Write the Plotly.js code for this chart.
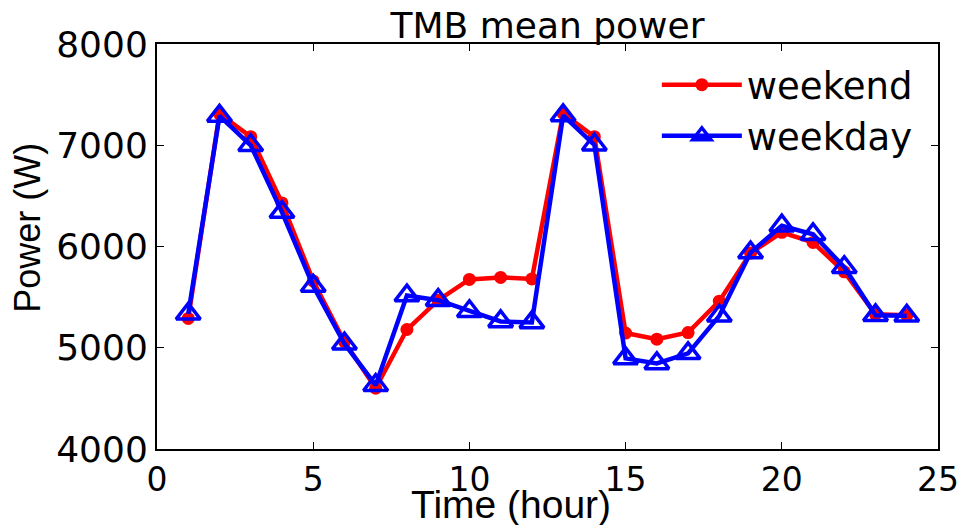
<!DOCTYPE html>
<html>
<head>
<meta charset="utf-8">
<script src="https://cdn.plot.ly/plotly-3.0.1.min.js"></script>
<style>html,body{margin:0;padding:0;background:#fff}#chart{width:962px;height:525px}</style>
</head>
<body>
<div id="chart"></div>
<script>
var hours = [1,2,3,4,5,6,7,8,9,10,11,12,13,14,15,16,17,18,19,20,21,22,23,24];
var weekend = [5290,7310,7085,6430,5660,5060,4600,5180,5470,5675,5695,5680,7315,7085,5145,5085,5150,5460,5935,6140,6040,5750,5330,5320];
var weekday = [5335,7290,7000,6340,5610,5040,4630,5515,5470,5360,5260,5250,7295,7005,4895,4845,4945,5315,5940,6205,6120,5795,5320,5315];
var seriesNames = ["weekend","weekday"];
var xTicks = [0,5,10,15,20,25];
var yTicks = [4000,5000,6000,7000,8000];

var SANS = "Liberation Sans, Arial, sans-serif";
var WIDE = "DejaVu Sans, sans-serif";
var traces = [
  {x: hours, y: weekend, name: seriesNames[0], mode: "lines+markers",
   line: {color: "#ff0000", width: 4.5},
   marker: {symbol: "circle", size: 13, color: "#ff0000"}},
  {x: hours, y: weekday, name: seriesNames[1], mode: "lines+markers",
   line: {color: "#0000ff", width: 4.5},
   marker: {symbol: "triangle-up-open", size: 21, color: "#0000ff", line: {width: 3.5, color: "#0000ff"}}}
];
var axisCommon = {
  showgrid: false, zeroline: false, showline: true, linecolor: "#000", linewidth: 2,
  mirror: "ticks", ticks: "inside", ticklen: 7, tickwidth: 1, tickcolor: "#000"
};
var layout = {
  width: 962, height: 525,
  margin: {l: 157, r: 24, t: 44, b: 76},
  paper_bgcolor: "#fff", plot_bgcolor: "#fff",
  font: {family: SANS, color: "#000"},
  title: {text: "TMB mean power", font: {family: WIDE, size: 36, color: "#000"},
          x: 0.5, xref: "paper", y: 0.952, yref: "container", yanchor: "middle"},
  xaxis: Object.assign({}, axisCommon, {
    range: [0, 25], tickvals: xTicks, ticktext: xTicks.map(String),
    tickfont: {family: WIDE, size: 33, color: "#000"}
  }),
  yaxis: Object.assign({}, axisCommon, {
    range: [4000, 8000], tickvals: yTicks, ticktext: yTicks.map(String),
    tickfont: {family: WIDE, size: 36, color: "#000"}
  }),
  annotations: [
    {text: "Power (W)", textangle: -90, xref: "paper", yref: "paper",
     x: -0.166, y: 0.547, xanchor: "center", yanchor: "middle", showarrow: false,
     font: {family: SANS, size: 36, color: "#000"}},
    {text: "Time (hour)", xref: "paper", yref: "paper",
     x: 0.453, y: -0.136, xanchor: "center", yanchor: "middle", showarrow: false,
     font: {family: SANS, size: 39, color: "#000"}}
  ],
  showlegend: true,
  legend: {x: 0.64, xanchor: "left", y: 0.975, yanchor: "top", bgcolor: "rgba(0,0,0,0)",
           borderwidth: 0, font: {family: WIDE, size: 37, color: "#000"}, itemwidth: 80,
           tracegroupgap: 0}
};
Plotly.newPlot("chart", traces, layout, {displayModeBar: false, staticPlot: true});
</script>
</body>
</html>
